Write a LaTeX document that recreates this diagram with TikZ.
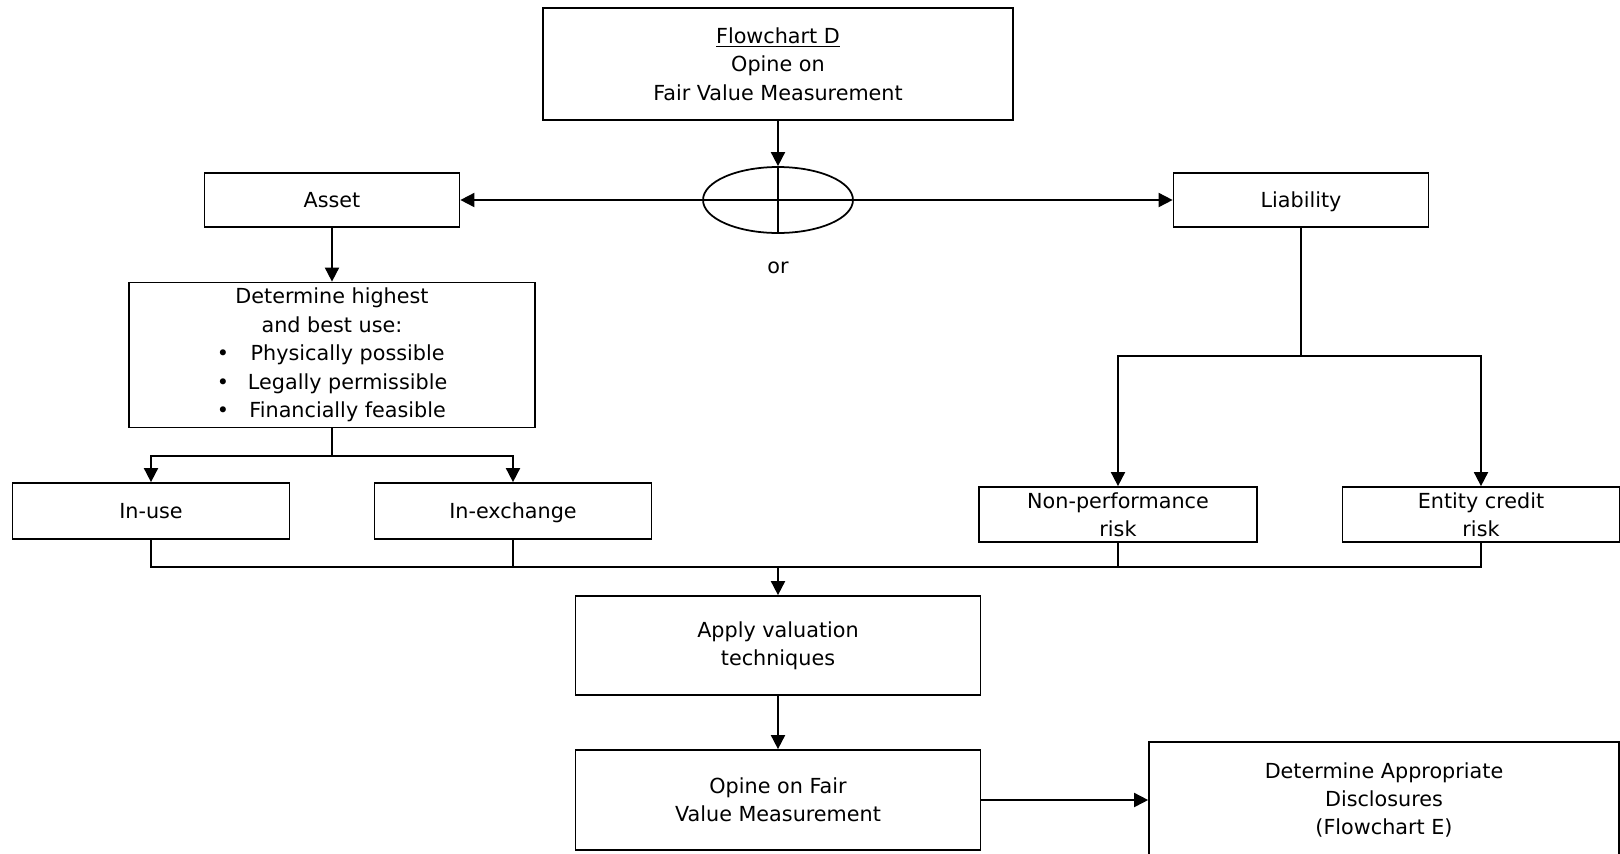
\documentclass[tikz,border=0pt]{standalone}
\usepackage{fontspec}
\setmainfont{DejaVu Sans}
\usepackage{tikz}
\usetikzlibrary{positioning}
\usetikzlibrary{shapes.geometric}
\usetikzlibrary{arrows.meta}

\begin{document}
\begin{tikzpicture}[x=0.02cm,y=-0.02cm,
		font=\fontsize{11.8pt}{16.2pt}\selectfont,
		line width=1pt,
		>={Triangle[length=8pt,width=8pt]},
		box/.style={draw,rectangle,align=center,inner sep=0pt},
		oneline/.style={box,text height=9pt,text depth=0.5pt}]
	\useasboundingbox (0,0) rectangle (1620,853);

	\node[box,minimum width=9.4cm,minimum height=2.24cm] at (778,64) (fc)
	{\underline{Flowchart D}\\Opine on\\Fair Value Measurement};

	\node[draw,ellipse,inner sep=0pt,minimum width=3cm,minimum height=1.32cm] at (778,200) (orsym) {};
	\node at (778,268) (ortxt) {or};

	\node[oneline,minimum width=5.1cm,minimum height=1.08cm] at (332,200) (as) {Asset};
	\node[oneline,minimum width=5.1cm,minimum height=1.08cm] at (1301,200) (li) {Liability};

	\node[box,minimum width=8.12cm,minimum height=2.9cm] at (332,355) (hbu)
	{\begin{tabular}{@{}l@{\hspace{0.38cm}}c@{}}
			\multicolumn{2}{c}{Determine highest}\\
			\multicolumn{2}{c}{and best use:}\\
			\textbullet & Physically possible\\
			\textbullet & Legally permissible\\
			\textbullet & Financially feasible
		\end{tabular}};

	\node[oneline,minimum width=5.54cm,minimum height=1.12cm] at (151,511) (iu) {In-use};
	\node[oneline,minimum width=5.54cm,minimum height=1.12cm] at (513,511) (ie) {In-exchange};

	\node[box,minimum width=5.56cm,minimum height=1.1cm] at (1118,514.5) (np) {Non-performance\\risk};
	\node[box,minimum width=5.54cm,minimum height=1.1cm] at (1481,514.5) (ec) {Entity credit\\risk};

	\node[box,minimum width=8.1cm,minimum height=1.98cm] at (778,645.5) (av) {Apply valuation\\techniques};
	\node[box,minimum width=8.1cm,minimum height=2cm] at (778,800) (ofv) {Opine on Fair\\Value Measurement};
	\node[box,minimum width=9.4cm,minimum height=2.32cm] at (1384,800) (dd)
	{Determine Appropriate\\Disclosures\\(Flowchart E)};

	\coordinate (hsplit) at (332,456);
	\coordinate (lsplit) at (1301,356);
	\coordinate (merge) at (778,567);

	\draw[->] (fc) -- (orsym.north);
	\draw (orsym.north) -- (orsym.south);
	\draw[->] (orsym.center) -- (as.east);
	\draw[->] (orsym.center) -- (li.west);

	\draw[->] (as) -- (hbu);
	\draw (hbu.south) -- (hsplit);
	\draw[->] (hsplit) -| (iu.north);
	\draw[->] (hsplit) -| (ie.north);

	\draw (li.south) -- (lsplit);
	\draw[->] (lsplit) -| (np.north);
	\draw[->] (lsplit) -| (ec.north);

	\draw (iu.south) |- (merge);
	\draw (ie.south) |- (merge);
	\draw (np.south) |- (merge);
	\draw (ec.south) |- (merge);
	\draw[->] (merge) -- (av.north);

	\draw[->] (av) -- (ofv);
	\draw[->] (ofv.east) -- (ofv.east -| dd.west);
\end{tikzpicture}
\end{document}
